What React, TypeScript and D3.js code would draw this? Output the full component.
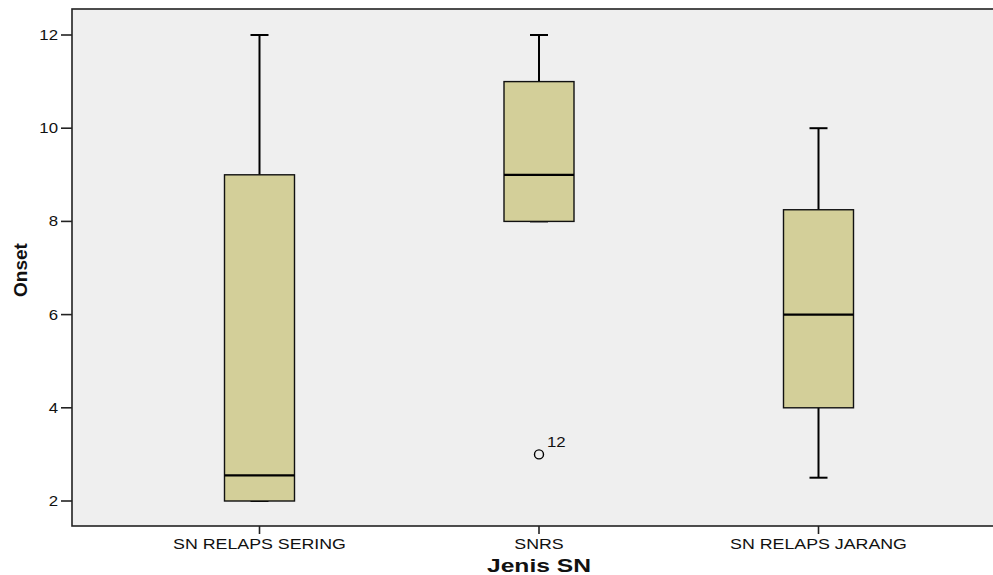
import React, { useEffect, useRef } from "react";
import * as d3 from "d3";

const categories = ["SN RELAPS SERING", "SNRS", "SN RELAPS JARANG"];
const mins = [2, 8, 2.5];
const q1s = [2, 8, 4];
const medians = [2.55, 9, 6];
const q3s = [9, 11, 8.25];
const maxs = [12, 12, 10];
const outliers = [{ cat: "SNRS", value: 3, label: "12" }];
const yTicks = [2, 4, 6, 8, 10, 12];

const W = 993;
const H = 575;
const left = 72;
const top = 9;
const bottom = 526;
const FONT = "Liberation Sans, Arial, sans-serif";

const App = () => {
    const ref = useRef<SVGSVGElement>(null);

    useEffect(() => {
        const svg = d3.select(ref.current);
        svg.selectAll("*").remove();

        const y = d3.scaleLinear().domain([2, 12]).range([501, 35]);
        const x = d3.scalePoint<string>().domain(categories).range([259.5, 818.5]);
        const boxW = 70;
        const capW = 18;

        // stretched text, like the original export
        const label = (px: number, py: number, txt: string, size: number, sx: number,
                       anchor: string, weight = "normal", dy = "0") =>
            svg.append("text")
                .attr("transform", `translate(${px},${py}) scale(${sx},1)`)
                .attr("dy", dy)
                .attr("text-anchor", anchor)
                .attr("font-family", FONT).attr("font-size", size)
                .attr("font-weight", weight)
                .attr("fill", "#111").text(txt);

        svg.append("rect")
            .attr("x", left).attr("y", top)
            .attr("width", W - left + 2).attr("height", bottom - top)
            .attr("fill", "#efefef")
            .attr("stroke", "#222").attr("stroke-width", 1.6);

        const data = categories.map((c, i) => ({
            c, min: mins[i], q1: q1s[i], med: medians[i], q3: q3s[i], max: maxs[i]
        }));

        const g = svg.append("g");
        data.forEach(d => {
            const cx = x(d.c)!;
            if (d.max > d.q3) {
                g.append("line").attr("x1", cx).attr("x2", cx).attr("y1", y(d.q3)).attr("y2", y(d.max))
                    .attr("stroke", "#000").attr("stroke-width", 2);
                g.append("line").attr("x1", cx - capW / 2).attr("x2", cx + capW / 2).attr("y1", y(d.max)).attr("y2", y(d.max))
                    .attr("stroke", "#000").attr("stroke-width", 2);
            }
            if (d.min < d.q1) {
                g.append("line").attr("x1", cx).attr("x2", cx).attr("y1", y(d.q1)).attr("y2", y(d.min))
                    .attr("stroke", "#000").attr("stroke-width", 2);
            }
            g.append("line").attr("x1", cx - capW / 2).attr("x2", cx + capW / 2).attr("y1", y(d.min)).attr("y2", y(d.min))
                .attr("stroke", "#000").attr("stroke-width", 2);
            g.append("rect")
                .attr("x", cx - boxW / 2).attr("y", y(d.q3))
                .attr("width", boxW).attr("height", y(d.q1) - y(d.q3))
                .attr("fill", "#d3cf99").attr("stroke", "#111").attr("stroke-width", 1.4);
            g.append("line").attr("x1", cx - boxW / 2).attr("x2", cx + boxW / 2).attr("y1", y(d.med)).attr("y2", y(d.med))
                .attr("stroke", "#000").attr("stroke-width", 2.2);
        });

        outliers.forEach(o => {
            const cx = x(o.cat)!;
            g.append("circle").attr("cx", cx).attr("cy", y(o.value)).attr("r", 4.5)
                .attr("fill", "none").attr("stroke", "#000").attr("stroke-width", 1.4);
            label(cx + 8, y(o.value) - 7, o.label, 14, 1.2, "start");
        });

        // y axis
        yTicks.forEach(t => {
            svg.append("line").attr("x1", left - 11).attr("x2", left).attr("y1", y(t)).attr("y2", y(t))
                .attr("stroke", "#222").attr("stroke-width", 1.6);
            label(left - 14, y(t), String(t), 14, 1.2, "end", "normal", "0.35em");
        });

        // x axis
        categories.forEach(c => {
            svg.append("line").attr("x1", x(c)!).attr("x2", x(c)!).attr("y1", bottom).attr("y2", bottom + 8)
                .attr("stroke", "#222").attr("stroke-width", 1.6);
            label(x(c)!, 549, c, 14, 1.27, "middle");
        });

        label(539, 572, "Jenis SN", 18, 1.37, "middle", "bold");

        svg.append("text")
            .attr("transform", "translate(27,270) rotate(-90)")
            .attr("text-anchor", "middle")
            .attr("font-family", "Liberation Sans Narrow, Liberation Sans, Arial, sans-serif").attr("font-size", 19)
            .attr("font-weight", "bold").attr("fill", "#111").text("Onset");
    }, []);

    return (
        <svg ref={ref} width={W} height={H}
             style={{ position: "absolute", left: 0, top: 0, background: "#fff" }} />
    );
};

export default App;
